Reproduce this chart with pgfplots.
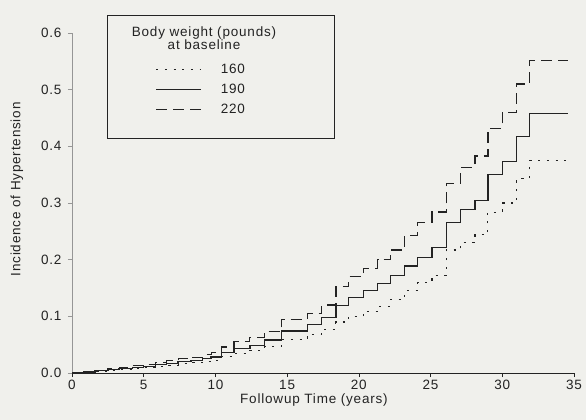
\documentclass[border=0pt]{standalone}
\usepackage{fontspec}
\setmainfont{Liberation Sans}[LetterSpace=6]
\usepackage{pgfplots}
\usepackage{pgfplotstable}
\pgfplotsset{compat=1.18}
\usetikzlibrary{backgrounds}
\definecolor{ink}{RGB}{35,35,35}
\definecolor{paper}{RGB}{240,240,236}
\definecolor{faint}{RGB}{150,150,150}

% Weight 160 lb (dotted)
\pgfplotstableread{
x y
0 0
0.8 0.0015
1.6 0.003
2.5 0.005
3.3 0.006
4.2 0.008
5.0 0.010
5.8 0.012
6.6 0.014
7.4 0.016
8.3 0.018
9.1 0.020
9.7 0.022
10.4 0.029
11.3 0.035
12.4 0.040
13.4 0.046
14.6 0.059
16.4 0.068
17.4 0.077
18.4 0.090
19.3 0.100
20.3 0.109
21.3 0.118
22.2 0.130
23.2 0.146
24.1 0.160
25.1 0.172
26.1 0.217
27.1 0.230
28.1 0.244
29.0 0.284
30.0 0.300
31.0 0.343
31.9 0.375
34.6 0.375
}\tblA

% Weight 190 lb (solid)
\pgfplotstableread{
x y
0 0
0.8 0.002
1.6 0.004
2.5 0.006
3.3 0.008
4.2 0.010
5.0 0.012
5.8 0.015
6.6 0.017
7.4 0.020
8.3 0.022
9.1 0.025
9.7 0.028
10.4 0.036
11.3 0.043
12.4 0.049
13.4 0.058
14.6 0.074
16.4 0.085
17.4 0.098
18.4 0.119
19.3 0.133
20.3 0.146
21.3 0.158
22.2 0.172
23.2 0.189
24.1 0.204
25.1 0.221
26.1 0.265
27.1 0.288
28.1 0.304
29.0 0.350
30.0 0.373
31.0 0.417
31.9 0.458
34.6 0.458
}\tblB

% Weight 220 lb (dashed)
\pgfplotstableread{
x y
0 0
0.8 0.0025
1.6 0.005
2.5 0.008
3.3 0.010
4.2 0.013
5.0 0.015
5.8 0.019
6.6 0.022
7.4 0.025
8.3 0.028
9.1 0.032
9.7 0.036
10.4 0.046
11.3 0.055
12.4 0.063
13.4 0.073
14.6 0.094
16.4 0.105
17.4 0.120
18.4 0.152
19.3 0.170
20.3 0.185
21.3 0.200
22.2 0.217
23.2 0.243
24.1 0.266
25.1 0.284
26.1 0.335
27.1 0.363
28.1 0.383
29.0 0.432
30.0 0.460
31.0 0.510
31.9 0.552
34.6 0.552
}\tblC

\begin{document}
\begin{tikzpicture}[font=\fontsize{13.5pt}{16pt}\selectfont]
\begin{axis}[
  name=ax,
  scale only axis,
  width=502pt, height=340pt,
  xmin=0, xmax=35, ymin=0, ymax=0.6,
  axis x line*=bottom, axis y line*=left,
  x axis line style={ink, line width=0.8pt},
  y axis line style={faint, line width=0.6pt},
  xtick={0,5,10,15,20,25,30,35},
  ytick={0,0.1,0.2,0.3,0.4,0.5,0.6},
  tick align=outside,
  major tick length=4pt,
  every x tick/.style={ink, line width=0.7pt},
  every y tick/.style={faint, line width=0.6pt},
  tick label style={text=ink},
  yticklabel style={xshift=-3pt},
  /pgf/number format/assume math mode=true,
  yticklabel style={/pgf/number format/.cd, fixed, fixed zerofill, precision=1},
  xlabel={Followup Time (years)},
  ylabel={Incidence of Hypertension},
  xlabel style={at={(axis description cs:0.482,-0.079)}, anchor=center, text=ink},
  ylabel style={at={(axis description cs:-0.11,0.54)}, anchor=center, text=ink},
  legend cell align=left,
  legend style={at={(axis description cs:0.07,1.053)}, anchor=north west,
    draw=ink, line width=0.8pt, fill=none, inner xsep=48pt, inner ysep=9pt,
    row sep=5pt, text=ink,
    /tikz/every odd column/.append style={column sep=17pt}},
  legend image code/.code={\draw[#1] (0pt,0pt) -- (45pt,0pt);},
]
\addlegendimage{empty legend}
\addlegendentry{\hspace*{-89pt}\raisebox{4pt}{\renewcommand{\arraystretch}{0.82}\begin{tabular}[b]{@{}c@{}}Body weight (pounds)\\at baseline\end{tabular}}\hspace*{8pt}}
\addplot[const plot, ink, line width=1.1pt, dash pattern=on 2.2pt off 6.5pt] table[x=x,y=y] {\tblA};
\addlegendentry{160}
\addplot[const plot, ink, line width=1.3pt] table[x=x,y=y] {\tblB};
\addlegendentry{190}
\addplot[const plot, ink, line width=1.2pt, dash pattern=on 11pt off 6pt] table[x=x,y=y] {\tblC};
\addlegendentry{220}
\addlegendimage{empty legend}
\addlegendentry{\fontsize{3pt}{3pt}\selectfont\strut}
\end{axis}
\pgfresetboundingbox
\path[use as bounding box] ([shift={(-72pt,-47pt)}]ax.south west) rectangle ++(586pt,420pt);
\begin{scope}[on background layer]
\fill[paper] ([shift={(-72pt,-47pt)}]ax.south west) rectangle ++(586pt,420pt);
\end{scope}
\end{tikzpicture}
\end{document}
